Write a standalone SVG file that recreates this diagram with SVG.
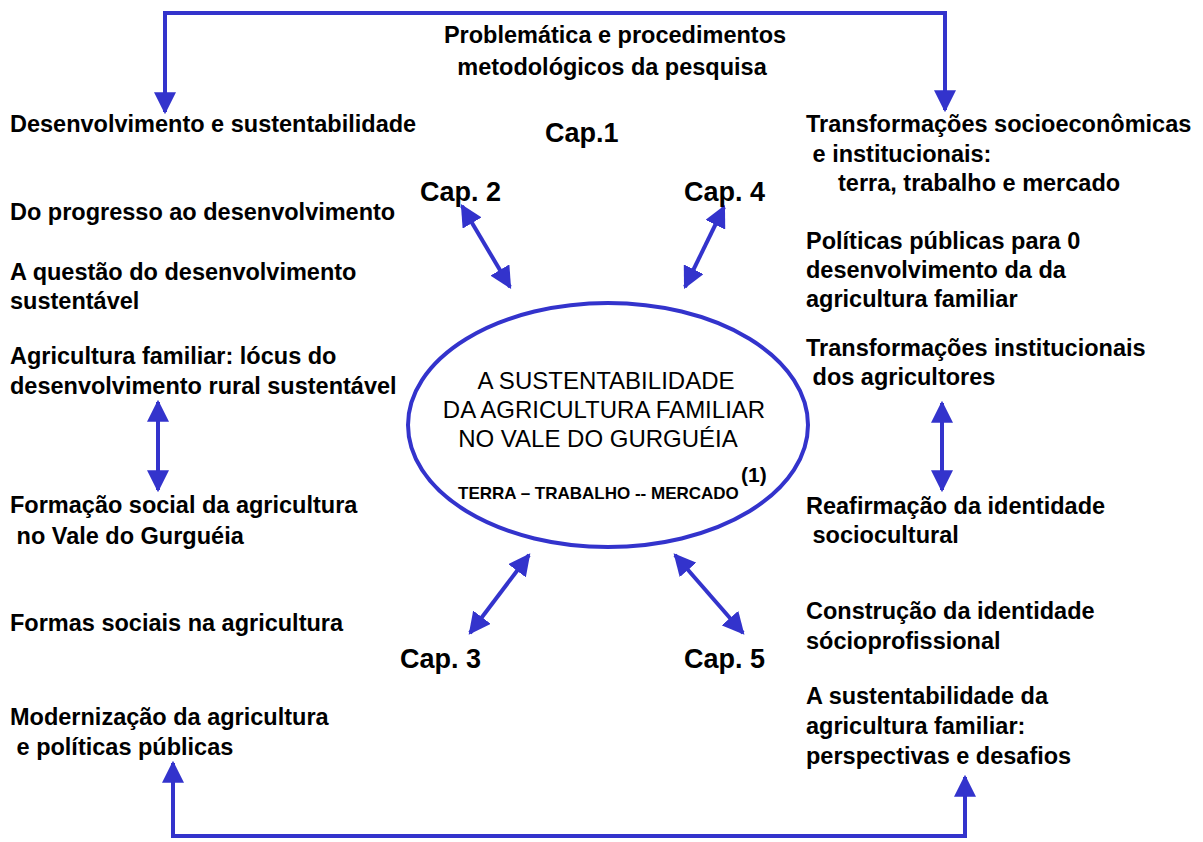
<svg xmlns="http://www.w3.org/2000/svg" width="1203" height="842" viewBox="0 0 1203 842">
<defs>
<marker id="ah" viewBox="0 0 10 10" refX="9" refY="5" markerWidth="5.5" markerHeight="5.5" markerUnits="strokeWidth" orient="auto-start-reverse">
<path d="M0,0 L10,5 L0,10 z" fill="#3333CC"/>
</marker>
<style>
.t{font-family:"Liberation Sans",Arial,sans-serif;font-weight:bold;font-size:23.5px;fill:#000}
.cap{font-family:"Liberation Sans",Arial,sans-serif;font-weight:bold;font-size:27px;fill:#000}
.e{font-family:"Liberation Sans",Arial,sans-serif;font-size:24px;fill:#000}
.s{font-family:"Liberation Sans",Arial,sans-serif;font-weight:bold;font-size:17px;fill:#000}
.c{fill:none;stroke:#3333CC;stroke-width:4}
</style>
</defs>
<rect width="1203" height="842" fill="#fff"/>
<g id="connectors">
<path class="c" d="M165,112 L165,13 L945,13 L945,110" marker-start="url(#ah)" marker-end="url(#ah)"/>
<path class="c" d="M173,763 L173,836 L965,836 L965,777" marker-start="url(#ah)" marker-end="url(#ah)"/>
<path class="c" d="M158,402 L158,490" marker-start="url(#ah)" marker-end="url(#ah)"/>
<path class="c" d="M942,403 L942,490" marker-start="url(#ah)" marker-end="url(#ah)"/>
<path class="c" d="M462,206 L510,287" marker-start="url(#ah)" marker-end="url(#ah)"/>
<path class="c" d="M724,207 L685,287" marker-start="url(#ah)" marker-end="url(#ah)"/>
<path class="c" d="M470,633 L529,555" marker-start="url(#ah)" marker-end="url(#ah)"/>
<path class="c" d="M675,555 L743,633" marker-start="url(#ah)" marker-end="url(#ah)"/>
</g>
<g id="center">
<ellipse cx="608" cy="425" rx="200" ry="122" fill="#fff" stroke="#3333CC" stroke-width="4"/>
<text class="e" x="606" y="389" text-anchor="middle">A SUSTENTABILIDADE</text>
<text class="e" x="604" y="418" text-anchor="middle">DA AGRICULTURA FAMILIAR</text>
<text class="e" x="598" y="447" text-anchor="middle">NO VALE DO GURGUÉIA</text>
<text class="s" x="458" y="499">TERRA – TRABALHO -- MERCADO</text>
<text class="s" x="741" y="482" style="font-size:21px">(1)</text>
</g>
<g id="title">
<text class="t" x="615" y="43" text-anchor="middle">Problemática e procedimentos</text>
<text class="t" x="612" y="75" text-anchor="middle">metodológicos da pesquisa</text>
</g>
<g id="caps">
<text class="cap" x="545" y="142">Cap.1</text>
<text class="cap" x="420" y="201">Cap. 2</text>
<text class="cap" x="684" y="201">Cap. 4</text>
<text class="cap" x="400" y="668">Cap. 3</text>
<text class="cap" x="684" y="668">Cap. 5</text>
</g>
<g id="left">
<text class="t" x="10" y="132">Desenvolvimento e sustentabilidade</text>
<text class="t" x="10" y="220">Do progresso ao desenvolvimento</text>
<text class="t" x="10" y="280">A questão do desenvolvimento</text>
<text class="t" x="10" y="309">sustentável</text>
<text class="t" x="10" y="364">Agricultura familiar: lócus do</text>
<text class="t" x="10" y="394">desenvolvimento rural sustentável</text>
<text class="t" x="10" y="513">Formação social da agricultura</text>
<text class="t" x="10" y="544" xml:space="preserve"> no Vale do Gurguéia</text>
<text class="t" x="10" y="631">Formas sociais na agricultura</text>
<text class="t" x="10" y="725">Modernização da agricultura</text>
<text class="t" x="10" y="755" xml:space="preserve"> e políticas públicas</text>
</g>
<g id="right">
<text class="t" x="806" y="132">Transformações socioeconômicas</text>
<text class="t" x="806" y="162" xml:space="preserve"> e institucionais:</text>
<text class="t" x="838" y="191">terra, trabalho e mercado</text>
<text class="t" x="806" y="249">Políticas públicas para 0</text>
<text class="t" x="806" y="278">desenvolvimento da da</text>
<text class="t" x="806" y="307">agricultura familiar</text>
<text class="t" x="806" y="356">Transformações institucionais</text>
<text class="t" x="806" y="385" xml:space="preserve"> dos agricultores</text>
<text class="t" x="806" y="514">Reafirmação da identidade</text>
<text class="t" x="806" y="543" xml:space="preserve"> sociocultural</text>
<text class="t" x="806" y="619">Construção da identidade</text>
<text class="t" x="806" y="649">sócioprofissional</text>
<text class="t" x="806" y="704">A sustentabilidade da</text>
<text class="t" x="806" y="734">agricultura familiar:</text>
<text class="t" x="806" y="764">perspectivas e desafios</text>
</g>
</svg>
